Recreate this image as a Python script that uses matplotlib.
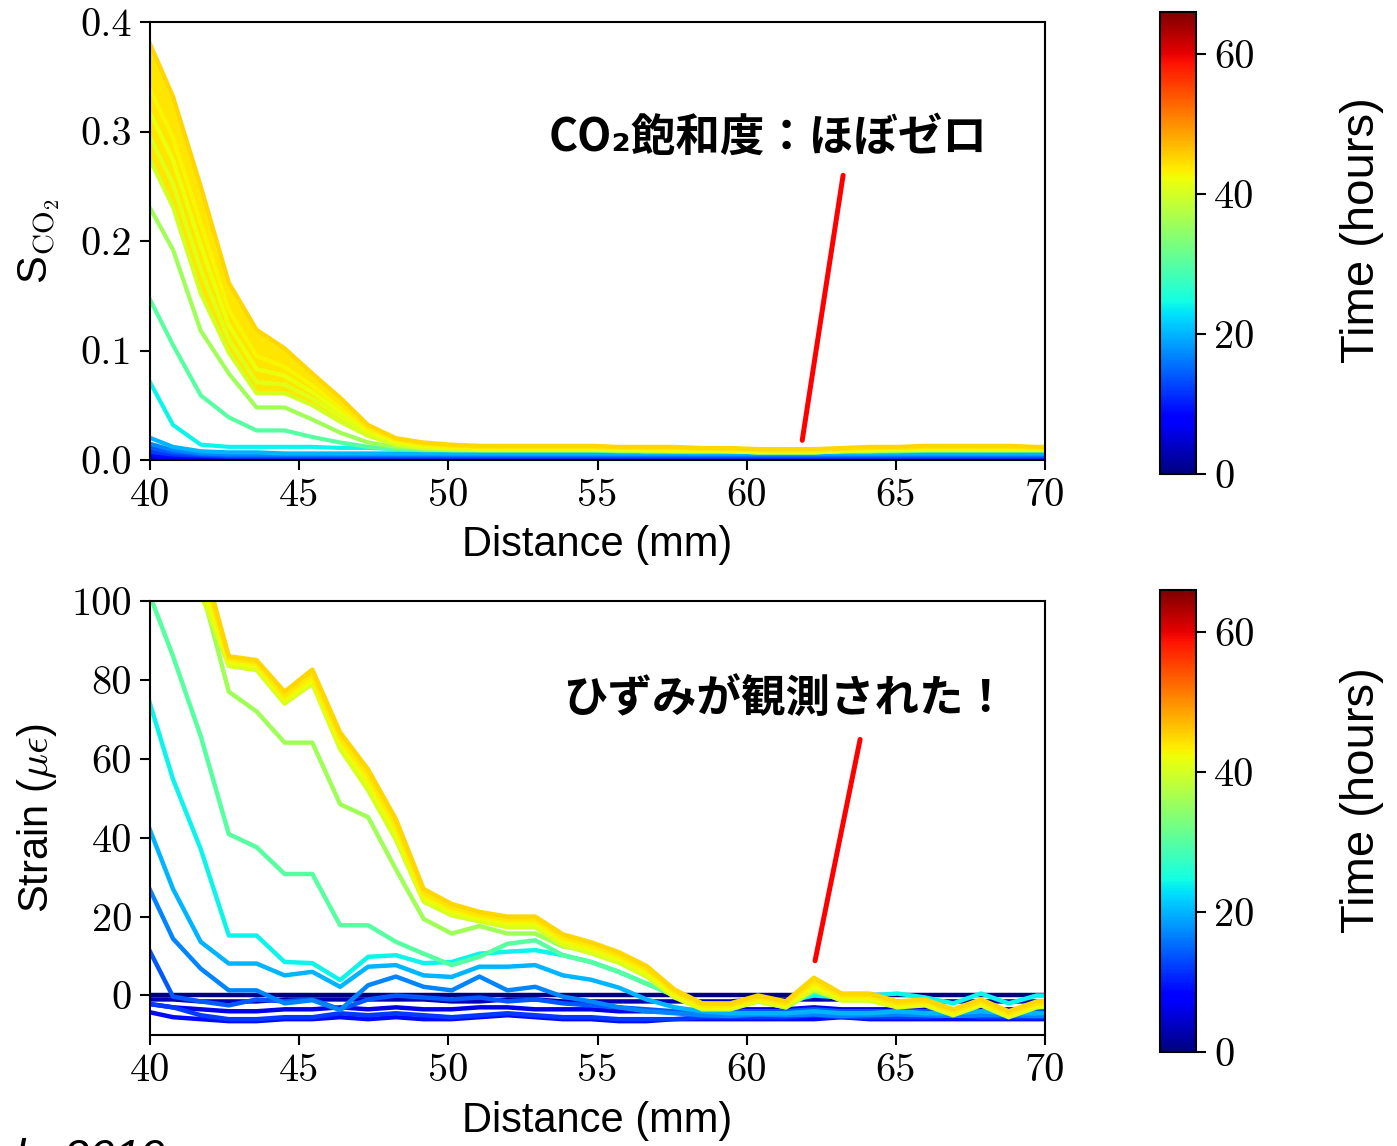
import numpy as np
import matplotlib
matplotlib.use('Agg')
import matplotlib.pyplot as plt
from matplotlib import colors, ticker

# Messpositionen (mm)
distance = [39.84, 40.77, 41.70, 42.64, 43.57, 44.51, 45.44, 46.37, 47.31, 48.24,
            49.17, 50.11, 51.04, 51.98, 52.91, 53.84, 54.78, 55.71, 56.64, 57.58,
            58.51, 59.45, 60.38, 61.31, 62.25, 63.18, 64.12, 65.05, 65.98, 66.92,
            67.85, 68.78, 69.72, 70.65]

# Zeitpunkte (hours)
times = [0, 3, 6, 9, 12, 14, 17, 20, 24, 30, 36, 40, 41, 42, 43, 44, 45]

# CO2 saturation
s_t00 = [0.000, 0.000, 0.000, 0.000, 0.000, 0.000, 0.000, 0.000, 0.000, 0.000,
         0.000, 0.000, 0.000, 0.000, 0.000, 0.000, 0.000, 0.000, 0.000, 0.000,
         0.000, 0.000, 0.000, 0.000, 0.000, 0.000, 0.000, 0.000, 0.000, 0.000,
         0.000, 0.000, 0.000, 0.000]
s_t03 = [0.001, 0.001, 0.001, 0.001, 0.001, 0.001, 0.001, 0.001, 0.001, 0.001,
         0.001, 0.001, 0.001, 0.001, 0.001, 0.001, 0.001, 0.001, 0.001, 0.001,
         0.001, 0.001, 0.001, 0.001, 0.001, 0.001, 0.001, 0.001, 0.001, 0.001,
         0.001, 0.001, 0.001, 0.001]
s_t06 = [0.003, 0.002, 0.002, 0.002, 0.002, 0.002, 0.002, 0.002, 0.002, 0.002,
         0.002, 0.002, 0.002, 0.002, 0.002, 0.002, 0.002, 0.002, 0.002, 0.002,
         0.002, 0.002, 0.002, 0.002, 0.002, 0.002, 0.002, 0.002, 0.002, 0.002,
         0.002, 0.002, 0.002, 0.002]
s_t09 = [0.005, 0.003, 0.003, 0.002, 0.002, 0.003, 0.003, 0.003, 0.002, 0.002,
         0.002, 0.003, 0.003, 0.003, 0.003, 0.003, 0.002, 0.002, 0.002, 0.002,
         0.002, 0.002, 0.002, 0.002, 0.002, 0.002, 0.003, 0.003, 0.003, 0.003,
         0.003, 0.003, 0.003, 0.003]
s_t12 = [0.008, 0.005, 0.004, 0.003, 0.003, 0.003, 0.003, 0.003, 0.003, 0.003,
         0.003, 0.003, 0.003, 0.003, 0.003, 0.003, 0.003, 0.003, 0.003, 0.003,
         0.003, 0.003, 0.003, 0.003, 0.003, 0.003, 0.003, 0.003, 0.003, 0.003,
         0.003, 0.003, 0.003, 0.003]
s_t14 = [0.012, 0.007, 0.005, 0.004, 0.004, 0.004, 0.004, 0.004, 0.004, 0.004,
         0.004, 0.004, 0.004, 0.004, 0.004, 0.004, 0.004, 0.004, 0.004, 0.004,
         0.004, 0.004, 0.004, 0.004, 0.004, 0.004, 0.004, 0.004, 0.004, 0.004,
         0.004, 0.004, 0.004, 0.004]
s_t17 = [0.016, 0.009, 0.006, 0.005, 0.005, 0.005, 0.005, 0.005, 0.005, 0.005,
         0.005, 0.005, 0.005, 0.005, 0.005, 0.005, 0.005, 0.005, 0.005, 0.005,
         0.005, 0.005, 0.005, 0.005, 0.005, 0.005, 0.005, 0.005, 0.005, 0.005,
         0.005, 0.005, 0.005, 0.005]
s_t20 = [0.022, 0.012, 0.008, 0.007, 0.007, 0.006, 0.006, 0.006, 0.006, 0.006,
         0.006, 0.006, 0.006, 0.006, 0.006, 0.006, 0.006, 0.006, 0.006, 0.006,
         0.006, 0.006, 0.006, 0.006, 0.006, 0.006, 0.006, 0.006, 0.006, 0.006,
         0.006, 0.006, 0.006, 0.006]
s_t24 = [0.079, 0.032, 0.014, 0.012, 0.012, 0.012, 0.012, 0.011, 0.011, 0.010,
         0.010, 0.009, 0.009, 0.009, 0.009, 0.009, 0.009, 0.009, 0.008, 0.008,
         0.008, 0.008, 0.008, 0.008, 0.008, 0.008, 0.009, 0.009, 0.009, 0.009,
         0.009, 0.009, 0.009, 0.009]
s_t30 = [0.155, 0.105, 0.059, 0.039, 0.027, 0.027, 0.021, 0.016, 0.012, 0.010,
         0.009, 0.009, 0.009, 0.009, 0.009, 0.009, 0.009, 0.008, 0.008, 0.008,
         0.008, 0.008, 0.007, 0.007, 0.007, 0.008, 0.008, 0.008, 0.009, 0.009,
         0.009, 0.009, 0.009, 0.009]
s_t36 = [0.238, 0.192, 0.118, 0.079, 0.048, 0.048, 0.037, 0.025, 0.016, 0.012,
         0.010, 0.009, 0.009, 0.009, 0.009, 0.009, 0.009, 0.009, 0.008, 0.008,
         0.008, 0.008, 0.007, 0.007, 0.007, 0.008, 0.008, 0.009, 0.009, 0.009,
         0.009, 0.009, 0.009, 0.009]
s_t40 = [0.283, 0.231, 0.152, 0.098, 0.061, 0.061, 0.050, 0.035, 0.022, 0.014,
         0.011, 0.010, 0.009, 0.009, 0.009, 0.009, 0.009, 0.009, 0.009, 0.008,
         0.008, 0.008, 0.007, 0.007, 0.007, 0.008, 0.009, 0.009, 0.009, 0.009,
         0.009, 0.009, 0.009, 0.009]
s_t41 = [0.304, 0.252, 0.174, 0.110, 0.071, 0.069, 0.056, 0.040, 0.024, 0.016,
         0.012, 0.011, 0.010, 0.010, 0.010, 0.010, 0.010, 0.009, 0.009, 0.009,
         0.009, 0.008, 0.008, 0.008, 0.008, 0.009, 0.009, 0.010, 0.010, 0.010,
         0.010, 0.010, 0.010, 0.009]
s_t42 = [0.326, 0.274, 0.196, 0.123, 0.083, 0.077, 0.062, 0.044, 0.026, 0.017,
         0.013, 0.012, 0.011, 0.010, 0.010, 0.010, 0.010, 0.010, 0.010, 0.009,
         0.009, 0.009, 0.008, 0.008, 0.008, 0.009, 0.010, 0.010, 0.010, 0.011,
         0.010, 0.010, 0.010, 0.010]
s_t43 = [0.348, 0.294, 0.216, 0.137, 0.095, 0.085, 0.068, 0.048, 0.028, 0.018,
         0.014, 0.012, 0.011, 0.011, 0.011, 0.011, 0.011, 0.011, 0.010, 0.010,
         0.010, 0.009, 0.009, 0.008, 0.009, 0.009, 0.010, 0.011, 0.011, 0.011,
         0.011, 0.011, 0.011, 0.010]
s_t44 = [0.370, 0.313, 0.234, 0.150, 0.107, 0.093, 0.073, 0.052, 0.030, 0.019,
         0.015, 0.013, 0.012, 0.012, 0.012, 0.012, 0.012, 0.011, 0.011, 0.011,
         0.010, 0.010, 0.009, 0.009, 0.009, 0.010, 0.011, 0.011, 0.012, 0.012,
         0.012, 0.012, 0.011, 0.011]
s_t45 = [0.390, 0.332, 0.250, 0.162, 0.119, 0.102, 0.079, 0.057, 0.032, 0.020,
         0.016, 0.014, 0.013, 0.013, 0.013, 0.013, 0.013, 0.012, 0.012, 0.012,
         0.011, 0.011, 0.010, 0.010, 0.010, 0.011, 0.012, 0.012, 0.013, 0.013,
         0.013, 0.013, 0.012, 0.012]

# Strain (micro strain)
e_t00 = [0.0, 0.0, 0.0, 0.0, 0.0, 0.0, 0.0, 0.0, 0.0, 0.0,
         0.0, 0.0, 0.0, 0.0, 0.0, 0.0, 0.0, 0.0, 0.0, 0.0,
         0.0, 0.0, 0.0, 0.0, 0.0, 0.0, 0.0, 0.0, 0.0, 0.0,
         0.0, 0.0, 0.0, 0.0]
e_t03 = [-1.0, -1.0, -1.5, -1.5, -1.5, -1.0, -1.0, -1.0, -1.0, -1.0,
         -1.0, -1.5, -1.5, -1.0, -1.0, -1.5, -1.5, -1.5, -1.5, -1.5,
         -1.5, -1.5, -1.0, -1.0, -1.0, -1.0, -1.0, -1.5, -1.5, -1.5,
         -1.5, -1.5, -1.5, -1.5]
e_t06 = [-2.0, -3.0, -3.5, -4.0, -4.0, -3.5, -3.5, -3.0, -3.5, -3.0,
         -3.5, -3.5, -3.0, -3.0, -3.5, -3.5, -3.5, -4.0, -4.0, -4.0,
         -3.5, -3.5, -3.5, -3.5, -3.0, -3.5, -3.5, -3.5, -3.5, -3.5,
         -3.5, -3.5, -3.5, -3.5]
e_t09 = [-4.0, -5.5, -6.0, -6.5, -6.5, -6.0, -6.0, -5.5, -6.0, -5.5,
         -6.0, -6.0, -5.5, -5.0, -5.5, -6.0, -6.0, -6.5, -6.5, -6.0,
         -6.0, -6.0, -6.0, -6.0, -6.0, -5.5, -6.0, -6.0, -6.0, -6.0,
         -6.0, -6.0, -6.0, -6.0]
e_t12 = [-2.0, -3.0, -5.0, -6.0, -6.0, -5.5, -5.5, -4.5, -5.0, -4.5,
         -5.0, -5.5, -5.0, -4.5, -5.0, -5.5, -5.5, -6.0, -6.0, -6.0,
         -5.5, -5.5, -5.5, -5.5, -5.0, -5.5, -5.5, -5.5, -5.5, -5.0,
         -5.5, -5.5, -5.5, -5.5]
e_t14 = [13.5, -0.3, -1.5, -2.5, -1.0, -1.5, -1.0, -3.5, -1.0, 0.0,
         -0.5, -1.0, -0.5, -1.5, -1.0, -2.0, -2.5, -3.0, -3.5, -4.0,
         -4.0, -4.0, -4.0, -4.0, -3.5, -4.0, -4.0, -4.0, -4.0, -4.0,
         -4.0, -4.0, -4.0, -4.0]
e_t17 = [29.3, 14.4, 6.8, 1.3, 1.3, -2.0, -1.2, -3.7, 2.6, 4.8,
         2.2, 1.3, 4.8, 1.3, 2.2, -0.3, -1.5, -3.0, -4.0, -4.5,
         -5.0, -5.2, -4.8, -5.0, -4.8, -5.2, -5.0, -4.8, -5.0, -5.2,
         -5.0, -5.0, -5.2, -5.0]
e_t20 = [45.0, 27.0, 13.6, 8.1, 8.1, 5.1, 6.0, 2.2, 7.3, 7.7,
         5.1, 4.7, 7.3, 7.3, 7.7, 5.1, 4.0, 2.0, -1.0, -3.0,
         -4.0, -4.5, -4.5, -4.5, -4.0, -4.5, -4.5, -4.0, -4.5, -4.5,
         -4.0, -4.5, -4.5, -4.5]
e_t24 = [77.9, 54.8, 37.1, 15.2, 15.2, 8.5, 8.2, 3.9, 9.8, 10.2,
         8.2, 8.5, 10.6, 11.1, 11.5, 10.2, 8.5, 6.0, 3.0, 0.0,
         -2.0, -2.5, -1.0, -1.5, 0.0, -0.5, 0.0, 0.5, -0.5, -2.0,
         0.5, -2.0, 0.0, 0.0]
e_t30 = [104.5, 86.0, 65.7, 40.9, 37.6, 30.8, 30.8, 17.8, 17.8, 13.6,
         10.6, 7.7, 9.8, 13.1, 14.0, 10.2, 8.5, 6.0, 3.0, 0.0,
         -2.5, -3.0, -1.5, -3.0, 1.0, -1.0, -1.0, -2.5, -2.0, -4.0,
         -2.0, -4.5, -2.5, -2.0]
e_t36 = [145.0, 125.0, 104.0, 77.0, 72.0, 64.1, 64.1, 48.5, 45.2, 32.0,
         19.4, 15.7, 17.6, 15.7, 15.7, 12.4, 11.5, 8.9, 5.1, 0.5,
         -2.5, -2.5, -1.0, -2.5, 1.5, -0.5, -0.5, -2.0, -2.0, -4.0,
         -1.5, -4.5, -2.0, -2.0]
e_t40 = [130.0, 115.0, 102.0, 83.5, 82.5, 74.0, 79.0, 62.5, 52.0, 39.5,
         23.8, 20.3, 18.8, 17.3, 17.3, 12.7, 10.7, 8.3, 4.8, -0.5,
         -3.5, -3.5, -1.5, -3.0, 1.5, -1.3, -1.3, -3.0, -2.5, -5.0,
         -2.5, -5.5, -3.0, -2.5]
e_t41 = [132.0, 117.0, 104.0, 84.0, 83.0, 74.5, 79.5, 63.2, 53.0, 40.5,
         24.3, 20.8, 19.2, 17.8, 17.8, 13.2, 11.2, 8.8, 5.3, -0.2,
         -3.2, -3.2, -1.2, -2.7, 2.0, -1.0, -1.0, -2.7, -2.2, -4.7,
         -2.2, -5.2, -2.7, -2.2]
e_t42 = [134.0, 119.0, 106.0, 84.5, 83.5, 75.0, 80.0, 64.0, 54.0, 41.5,
         24.8, 21.3, 19.6, 18.3, 18.3, 13.7, 11.7, 9.3, 5.8, 0.2,
         -3.0, -3.0, -1.0, -2.5, 2.5, -0.7, -0.7, -2.5, -2.0, -4.5,
         -2.0, -5.0, -2.5, -2.0]
e_t43 = [136.0, 121.0, 108.0, 85.0, 84.0, 75.5, 80.5, 64.8, 55.0, 42.5,
         25.3, 21.8, 20.0, 18.8, 18.8, 14.2, 12.2, 9.8, 6.3, 0.6,
         -2.8, -2.8, -0.8, -2.3, 3.0, -0.4, -0.4, -2.3, -1.8, -4.3,
         -1.8, -4.8, -2.3, -1.8]
e_t44 = [138.0, 123.0, 110.0, 85.5, 84.5, 76.0, 81.5, 65.5, 56.0, 43.5,
         26.0, 22.3, 20.5, 19.3, 19.3, 14.8, 12.8, 10.3, 6.8, 1.0,
         -2.5, -2.5, -0.5, -2.0, 3.5, 0.0, 0.0, -2.0, -1.5, -4.0,
         -1.5, -4.5, -2.0, -1.5]
e_t45 = [140.0, 125.0, 112.0, 86.0, 85.0, 77.0, 82.6, 66.7, 57.3, 44.7,
         27.0, 23.2, 21.2, 20.0, 20.0, 15.5, 13.5, 11.0, 7.5, 1.5,
         -2.0, -2.0, 0.0, -1.5, 4.5, 0.5, 0.5, -1.5, -1.0, -3.5,
         -1.0, -4.0, -1.5, -1.0]

s_kurven = [s_t00, s_t03, s_t06, s_t09, s_t12, s_t14, s_t17, s_t20, s_t24,
            s_t30, s_t36, s_t40, s_t41, s_t42, s_t43, s_t44, s_t45]
e_kurven = [e_t00, e_t03, e_t06, e_t09, e_t12, e_t14, e_t17, e_t20, e_t24,
            e_t30, e_t36, e_t40, e_t41, e_t42, e_t43, e_t44, e_t45]

# Schriften
plt.rcParams['font.family'] = ['Liberation Sans', 'Noto Sans CJK JP', 'DejaVu Sans']
plt.rcParams['mathtext.fontset'] = 'cm'
plt.rcParams['axes.unicode_minus'] = False
plt.rcParams['axes.linewidth'] = 1.5

cmap = plt.get_cmap('jet')
norm = colors.Normalize(vmin=0, vmax=66)
x = np.array(distance)

fig = plt.figure(figsize=(13.97, 11.46), dpi=100)
ax1 = fig.add_axes([0.1074, 0.5986, 0.6407, 0.3822])
ax2 = fig.add_axes([0.1074, 0.0969, 0.6407, 0.3787])
cax1 = fig.add_axes([0.8304, 0.5864, 0.0258, 0.4031])
cax2 = fig.add_axes([0.8304, 0.0820, 0.0258, 0.4031])

# Band der spaeten Kurven fuellen (dichte Linien)
ax1.fill_between(x, s_t40, s_t45, color=cmap(norm(44)), lw=0, zorder=1.9)

for t, s, e in zip(times, s_kurven, e_kurven):
    c = cmap(norm(t))
    ax1.plot(x, s, color=c, lw=3.0, zorder=2)
    ax2.plot(x, e, color=c, lw=3.2, zorder=2)

ax1.set_xlim(40, 70)
ax1.set_ylim(0, 0.4)
ax1.set_yticks([0.0, 0.1, 0.2, 0.3, 0.4])
ax1.yaxis.set_major_formatter(ticker.FormatStrFormatter('%.1f'))
ax2.set_xlim(40, 70)
ax2.set_ylim(-10, 100)
ax2.set_yticks([0, 20, 40, 60, 80, 100])

for ax in (ax1, ax2):
    ax.set_xticks([40, 45, 50, 55, 60, 65, 70])
    ax.tick_params(direction='out', length=7, width=1.5, labelsize=29, pad=6,
                   labelfontfamily='cmr10')
    ax.set_xlabel('Distance (mm)', fontsize=30)
    ax.xaxis.label.set_verticalalignment('top')
ax1.xaxis.set_label_coords(0.5, -0.148)
ax2.xaxis.set_label_coords(0.5, -0.152)

ax1.set_ylabel(r'S$_{\mathrm{CO_2}}$', fontsize=30)
ax2.set_ylabel(r'Strain ($\mu\epsilon$)', fontsize=30)
ax1.yaxis.set_label_coords(-0.124, 0.5)
ax2.yaxis.set_label_coords(-0.126, 0.5)
for ax in (ax1, ax2):
    ax.yaxis.label.set_verticalalignment('center')

# Farbskalen
for cax in (cax1, cax2):
    sm = plt.cm.ScalarMappable(norm=norm, cmap=cmap)
    cb = fig.colorbar(sm, cax=cax, ticks=[0, 20, 40, 60])
    cb.outline.set_linewidth(1.5)
    cax.tick_params(direction='out', length=7, width=1.5, labelsize=29, pad=6,
                    labelfontfamily='cmr10')

fig.text(1362 / 1397, 1 - 230 / 1146, 'Time (hours)', rotation=90, fontsize=34,
         ha='center', va='center')
fig.text(1362 / 1397, 1 - 800 / 1146, 'Time (hours)', rotation=90, fontsize=34,
         ha='center', va='center')

# Anmerkungen
jp = ['Noto Sans CJK JP', 'DejaVu Sans']
fig.text(768 / 1397, 1 - 138 / 1146, 'CO₂飽和度：ほぼゼロ', family=jp,
         fontsize=32, weight='bold', ha='center', va='center')
fig.text(786 / 1397, 1 - 700 / 1146, 'ひずみが観測された！', family=jp,
         fontsize=32, weight='bold', ha='center', va='center')
ax1.annotate('', xy=(61.86, 0.018), xytext=(63.23, 0.26),
             arrowprops=dict(arrowstyle='-', color='red', lw=3.6,
                             shrinkA=0, shrinkB=0))
ax2.annotate('', xy=(62.29, 8.8), xytext=(63.80, 64.9),
             arrowprops=dict(arrowstyle='-', color='red', lw=3.6,
                             shrinkA=0, shrinkB=0))

# abgeschnittene Quelle unten links
fig.text(15 / 1397, 1 - 1138 / 1146, 'l., 2019', fontsize=33, style='italic',
         ha='left', va='top')

fig.savefig('out.png', dpi=100)
